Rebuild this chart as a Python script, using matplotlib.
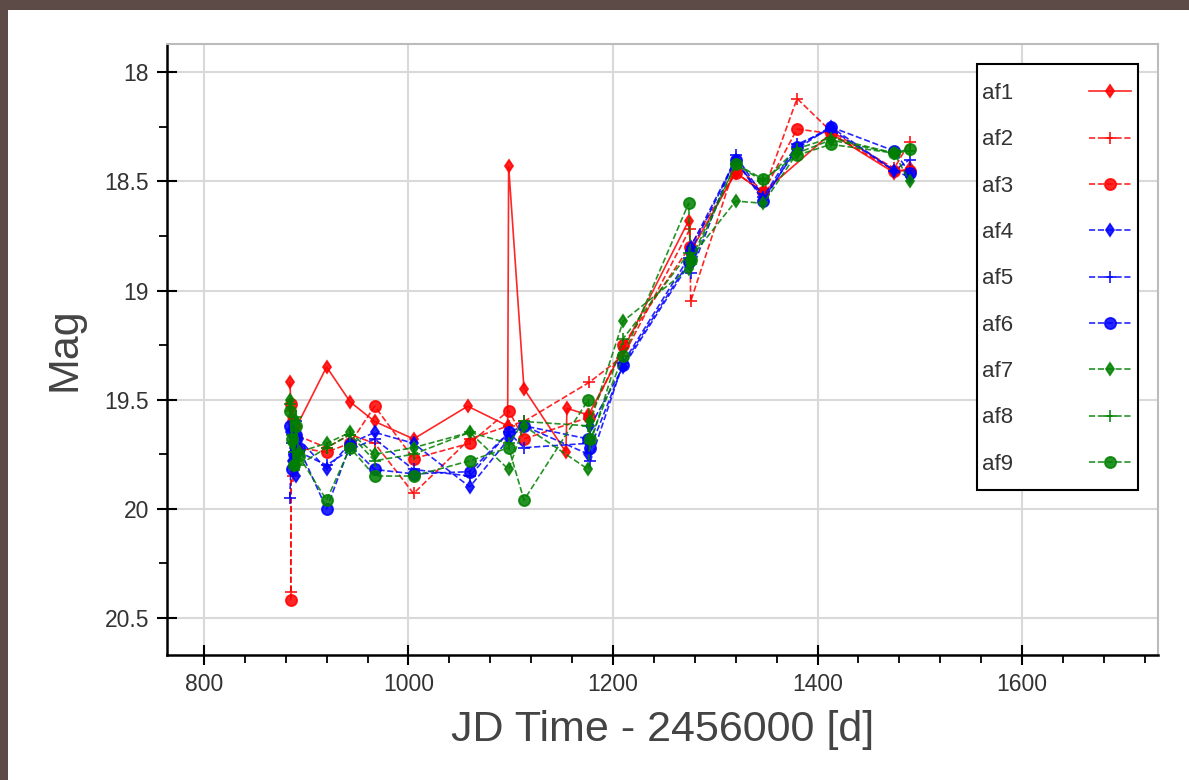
import numpy as np
import matplotlib.pyplot as plt
from matplotlib.patches import Rectangle
from matplotlib.ticker import MultipleLocator

plt.rcParams['font.family'] = ['Liberation Sans', 'DejaVu Sans']

# tiempos (JD - 2456000) y magnitudes por serie
t1 = [884, 886, 888, 891, 920, 943, 967, 1005, 1058, 1097, 1098, 1113, 1154, 1155, 1176, 1210, 1274, 1276, 1320, 1347, 1413, 1475, 1490]
m1 = [19.42, 19.58, 19.70, 19.62, 19.35, 19.51, 19.60, 19.68, 19.53, 19.62, 18.43, 19.45, 19.74, 19.54, 19.57, 19.27, 18.68, 18.82, 18.46, 18.55, 18.28, 18.46, 18.44]

t2 = [885, 885.5, 887, 889, 920, 943, 967, 1005, 1060, 1098, 1113, 1177, 1210, 1275, 1276, 1320, 1347, 1380, 1413, 1475, 1490]
m2 = [20.38, 19.55, 19.85, 19.66, 19.72, 19.66, 19.70, 19.93, 19.68, 19.62, 19.60, 19.42, 19.30, 18.72, 19.05, 18.42, 18.55, 18.12, 18.27, 18.44, 18.32]

t3 = [885, 885.5, 887, 890, 920, 943, 967, 1005, 1060, 1098, 1113, 1177, 1210, 1275, 1320, 1347, 1380, 1413, 1475, 1490]
m3 = [20.42, 19.52, 19.60, 19.72, 19.74, 19.70, 19.53, 19.77, 19.70, 19.55, 19.68, 19.58, 19.25, 18.80, 18.46, 18.55, 18.26, 18.28, 18.45, 18.45]

tt = [884, 886, 888, 890, 893, 920, 943, 967, 1005, 1060, 1098, 1113, 1176, 1178, 1210, 1274, 1276, 1320, 1347, 1380, 1413, 1475, 1490]
m4 = [19.65, 19.78, 19.72, 19.85, 19.68, 19.82, 19.70, 19.65, 19.70, 19.90, 19.68, 19.62, 19.75, 19.62, 19.35, 18.88, 18.80, 18.40, 18.58, 18.35, 18.25, 18.45, 18.48]
m5 = [19.95, 19.70, 19.78, 19.60, 19.74, 19.80, 19.73, 19.68, 19.82, 19.85, 19.65, 19.72, 19.70, 19.78, 19.33, 18.85, 18.92, 18.38, 18.57, 18.33, 18.26, 18.45, 18.40]
m6 = [19.62, 19.82, 19.75, 19.66, 19.72, 20.00, 19.71, 19.82, 19.84, 19.83, 19.65, 19.62, 19.68, 19.72, 19.34, 18.87, 18.82, 18.40, 18.59, 18.34, 18.25, 18.36, 18.46]
m7 = [19.50, 19.70, 19.80, 19.60, 19.74, 19.70, 19.65, 19.75, 19.72, 19.65, 19.82, 19.62, 19.82, 19.60, 19.14, 18.90, 18.85, 18.59, 18.60, 18.37, 18.31, 18.37, 18.50]
m8 = [19.52, 19.66, 19.74, 19.58, 19.80, 19.72, 19.66, 19.78, 19.75, 19.65, 19.70, 19.60, 19.62, 19.70, 19.22, 18.83, 18.88, 18.42, 18.50, 18.35, 18.30, 18.37, 18.36]
m9 = [19.55, 19.68, 19.80, 19.62, 19.76, 19.96, 19.72, 19.85, 19.85, 19.78, 19.72, 19.96, 19.50, 19.68, 19.30, 18.60, 18.86, 18.42, 18.49, 18.38, 18.33, 18.37, 18.35]

series = [
    ('af1', t1, m1, 'red', 'd', '-', 6),
    ('af2', t2, m2, 'red', '+', '--', 9),
    ('af3', t3, m3, 'red', 'o', '--', 8),
    ('af4', tt, m4, 'blue', 'd', '--', 6),
    ('af5', tt, m5, 'blue', '+', '--', 9),
    ('af6', tt, m6, 'blue', 'o', '--', 8),
    ('af7', tt, m7, 'green', 'd', '--', 6),
    ('af8', tt, m8, 'green', '+', '--', 9),
    ('af9', tt, m9, 'green', 'o', '--', 8),
]

fig = plt.figure(figsize=(11.89, 7.80), dpi=100, facecolor='#5c4b47')
fondo = Rectangle((8/1189, 0), 1, 1 - 10/780, transform=fig.transFigure,
                  facecolor='white', edgecolor='none', zorder=-10)
fig.add_artist(fondo)
ax = fig.add_axes([0.1405, 0.1603, 0.8335, 0.7833])
ax.set_zorder(5)

for nombre, t, m, c, mk, ls, ms in series:
    ax.plot(t, m, color=c, marker=mk, linestyle=ls, markersize=ms, linewidth=1.2,
            markeredgewidth=1.3, alpha=0.85, label=nombre)

ax.set_xlim(764, 1733)
ax.set_ylim(20.67, 17.87)
ax.xaxis.set_major_locator(MultipleLocator(200))
ax.xaxis.set_minor_locator(MultipleLocator(40))
ax.yaxis.set_minor_locator(MultipleLocator(0.25))
ax.set_yticks([18, 18.5, 19, 19.5, 20, 20.5])
ax.set_yticklabels(['18', '18.5', '19', '19.5', '20', '20.5'])

ax.grid(True, which='major', color='#d9d9d9', linewidth=1.5)
ax.set_axisbelow(True)
for s in ['top', 'right']:
    ax.spines[s].set_color('#bbbbbb')
    ax.spines[s].set_linewidth(1.5)
for s in ['left', 'bottom']:
    ax.spines[s].set_color('black')
    ax.spines[s].set_linewidth(1.8)
ax.tick_params(which='major', direction='inout', length=14, width=1.5,
               labelsize=16.5, colors='black', labelcolor='#333333', pad=6)
ax.tick_params(which='minor', direction='out', length=6, width=1.3)

ax.set_xlabel('JD Time - 2456000 [d]', fontsize=31, color='#444444', labelpad=10)
ax.set_ylabel('Mag', fontsize=31, color='#444444', labelpad=14)

# caja de la leyenda dibujada aparte (padding vertical mayor que horizontal)
caja = Rectangle((0.817, 0.270), 0.163, 0.697, transform=ax.transAxes,
                 facecolor='white', edgecolor='black', linewidth=1.5, zorder=4)
ax.add_patch(caja)
leg = ax.legend(loc='upper right', bbox_to_anchor=(0.9728, 0.936), borderaxespad=0,
                markerfirst=False, frameon=False, fontsize=16, handlelength=1.9,
                handletextpad=3.4, labelspacing=1.14, borderpad=0)
leg.set_zorder(6)
for txt in leg.get_texts():
    txt.set_color('#333333')

fig.savefig('out.png', dpi=100, facecolor=fig.get_facecolor())
